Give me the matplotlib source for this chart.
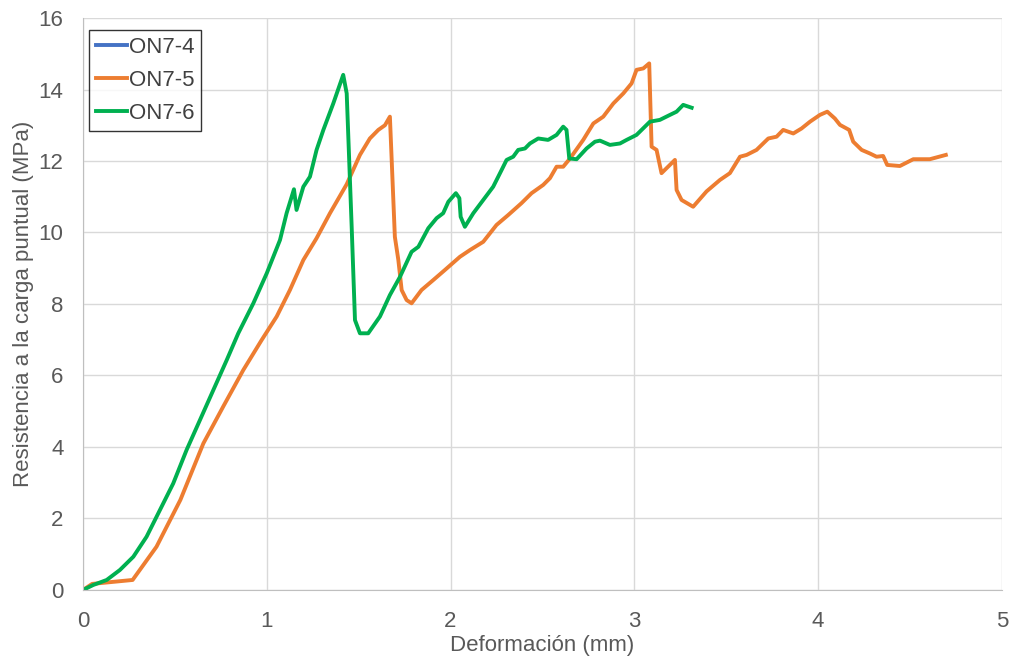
import matplotlib
matplotlib.use("Agg")
import matplotlib.pyplot as plt

plt.rcParams['font.family'] = ['Liberation Sans', 'DejaVu Sans']

# ON7-4: no visible data in the chart (only in legend)
x_on74 = []
y_on74 = []

# ON7-5 (orange)
x_on75 = [0.0, 0.05, 0.27, 0.40, 0.53, 0.655, 0.763, 0.872, 0.972, 1.054, 1.126,
          1.199, 1.271, 1.344, 1.435, 1.507, 1.561, 1.607, 1.643, 1.670, 1.697,
          1.716, 1.734, 1.761, 1.788, 1.842, 1.906, 1.969, 2.051, 2.106, 2.178,
          2.25, 2.314, 2.386, 2.441, 2.504, 2.541, 2.577, 2.613, 2.650, 2.722,
          2.777, 2.831, 2.886, 2.94, 2.985, 3.012, 3.049, 3.081, 3.094, 3.121,
          3.148, 3.221, 3.230, 3.257, 3.320, 3.393, 3.466, 3.520, 3.575, 3.611,
          3.665, 3.729, 3.774, 3.810, 3.865, 3.910, 3.956, 4.010, 4.050, 4.091,
          4.119, 4.169, 4.191, 4.237, 4.282, 4.318, 4.354, 4.376, 4.445, 4.518,
          4.608, 4.695]
y_on75 = [0.0, 0.17, 0.28, 1.21, 2.52, 4.10, 5.13, 6.15, 6.99, 7.65, 8.39,
          9.23, 9.84, 10.54, 11.35, 12.17, 12.63, 12.87, 13.0, 13.24, 9.88,
          9.23, 8.39, 8.11, 8.02, 8.39, 8.67, 8.95, 9.32, 9.51, 9.74,
          10.21, 10.49, 10.82, 11.10, 11.33, 11.52, 11.84, 11.84, 12.07, 12.59,
          13.05, 13.24, 13.61, 13.89, 14.17, 14.55, 14.59, 14.73, 12.40, 12.31,
          11.66, 12.03, 11.19, 10.91, 10.72, 11.15, 11.47, 11.66, 12.12, 12.17,
          12.31, 12.63, 12.68, 12.87, 12.77, 12.91, 13.10, 13.29, 13.38, 13.19,
          13.01, 12.87, 12.54, 12.31, 12.21, 12.12, 12.14, 11.89, 11.86, 12.05,
          12.05, 12.17]

# ON7-6 (green)
x_on76 = [0.0, 0.056, 0.129, 0.201, 0.274, 0.346, 0.419, 0.491, 0.564, 0.637,
          0.709, 0.782, 0.845, 0.927, 1.0, 1.072, 1.108, 1.148, 1.162, 1.199,
          1.235, 1.271, 1.308, 1.362, 1.416, 1.435, 1.462, 1.480, 1.507, 1.552,
          1.616, 1.670, 1.725, 1.788, 1.825, 1.879, 1.924, 1.960, 1.988, 2.029,
          2.048, 2.055, 2.078, 2.124, 2.178, 2.232, 2.278, 2.305, 2.341, 2.368,
          2.405, 2.432, 2.477, 2.531, 2.577, 2.613, 2.631, 2.646, 2.686, 2.740,
          2.786, 2.813, 2.867, 2.922, 2.958, 3.012, 3.085, 3.139, 3.194, 3.230,
          3.266, 3.312]
y_on76 = [0.0, 0.14, 0.28, 0.56, 0.93, 1.49, 2.24, 2.98, 3.92, 4.76,
          5.59, 6.43, 7.18, 8.02, 8.86, 9.79, 10.54, 11.21, 10.63, 11.28,
          11.56, 12.31, 12.87, 13.61, 14.41, 13.89, 10.16, 7.55, 7.18, 7.18,
          7.65, 8.25, 8.76, 9.46, 9.60, 10.12, 10.40, 10.54, 10.86, 11.10,
          10.96, 10.44, 10.16, 10.54, 10.91, 11.28, 11.75, 12.03, 12.12, 12.31,
          12.35, 12.49, 12.63, 12.59, 12.73, 12.96, 12.87, 12.07, 12.05, 12.35,
          12.54, 12.57, 12.45, 12.49, 12.59, 12.73, 13.10, 13.15, 13.29, 13.38,
          13.57, 13.49]

x_ticks = [0, 1, 2, 3, 4, 5]
y_ticks = [0, 2, 4, 6, 8, 10, 12, 14, 16]

fig = plt.figure(figsize=(10.12, 6.62), dpi=100)
ax = fig.add_axes([0.082, 0.1088, 0.908, 0.864])

ax.plot(x_on74, y_on74, color='#4472C4', lw=2.8, label='ON7-4')
ax.plot(x_on75, y_on75, color='#ED7D31', lw=2.8, label='ON7-5')
ax.plot(x_on76, y_on76, color='#00B050', lw=2.8, label='ON7-6')

ax.set_xlim(0, 5)
ax.set_ylim(0, 16)
ax.set_xticks(x_ticks)
ax.set_yticks(y_ticks)
ax.grid(True, color='#D9D9D9', lw=1)
ax.set_axisbelow(True)
ax.tick_params(length=0, labelsize=16, colors='#595959')
ax.tick_params(axis='x', pad=15)
ax.tick_params(axis='y', pad=14)
for s in ['top', 'right']:
    ax.spines[s].set_visible(False)
for s in ['left', 'bottom']:
    ax.spines[s].set_color('#BFBFBF')

ax.set_xlabel('Deformación (mm)', fontsize=16, color='#595959', labelpad=2)
ax.set_ylabel('Resistencia a la carga puntual (MPa)', fontsize=16, color='#595959', labelpad=3)

leg = ax.legend(loc='upper left', bbox_to_anchor=(0.0065, 0.979), fontsize=16,
                frameon=True, fancybox=False, handlelength=1.4,
                handletextpad=0.1, borderpad=0.3, labelspacing=0.55,
                borderaxespad=0)
leg.get_frame().set_edgecolor('black')
leg.get_frame().set_linewidth(1)
for t in leg.get_texts():
    t.set_color('#404040')

fig.savefig('out.png', dpi=100, facecolor='white')
